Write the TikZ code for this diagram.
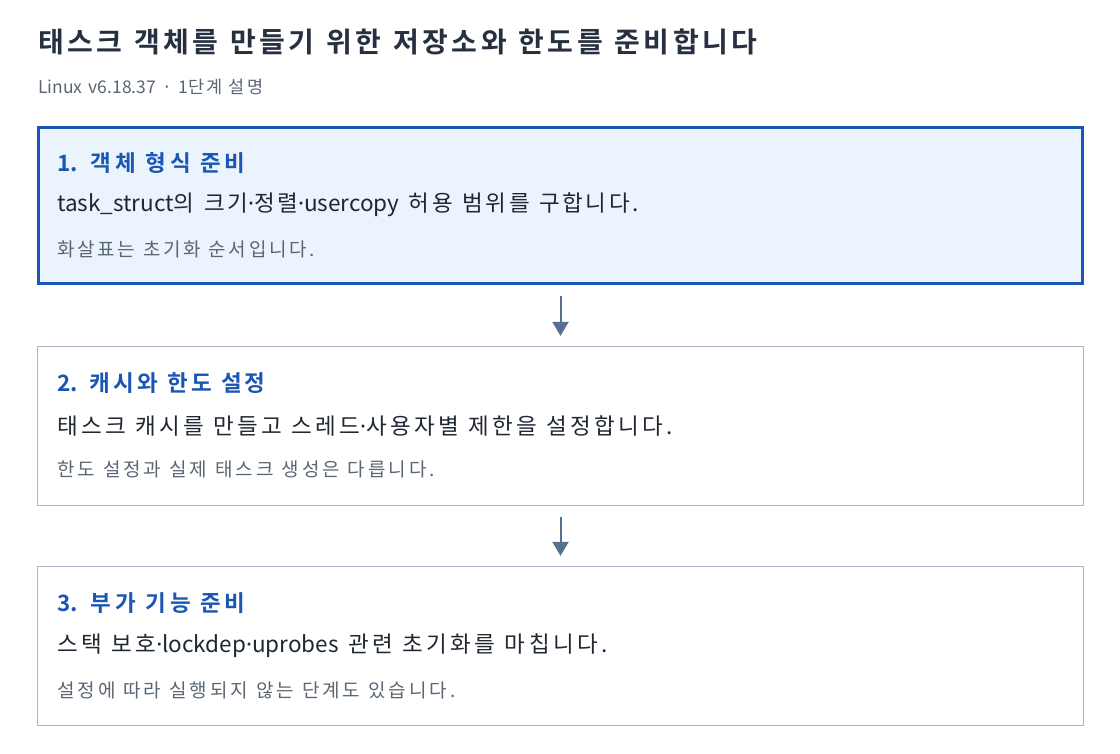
\documentclass[tikz,border=0pt]{standalone}
\usepackage{fontspec}
\setmainfont{Noto Sans CJK KR}[BoldFont=Noto Sans CJK KR Bold]
\newfontfamily\latinfont{Noto Sans}
\usetikzlibrary{arrows.meta}
\newcommand\lat[1]{{\addfontfeature{LetterSpace=0}#1}}
\newcommand\md{{\latinfont ·}}
\newcommand\wsp[1]{\spaceskip=#1\relax}
\definecolor{titlecol}{HTML}{263040}
\definecolor{subcol}{HTML}{5B6675}
\definecolor{bluecol}{HTML}{1A56B4}
\definecolor{fillblue}{HTML}{EBF3FD}
\definecolor{graycol}{HTML}{A9B7C6}
\definecolor{arrowcol}{HTML}{56708F}
\definecolor{bodycol}{HTML}{1F2733}
\tikzset{
  stepbox/.style={draw=graycol, line width=1.2pt, fill=white, minimum width=1046pt, minimum height=159pt, inner sep=0pt},
  activebox/.style={stepbox, draw=bluecol, line width=3pt, fill=fillblue, minimum width=1044pt, minimum height=156pt},
  steptitle/.style={anchor=west, inner sep=0pt, text=bluecol, font={\bfseries\fontsize{22.5}{26}\selectfont\addfontfeature{LetterSpace=#1}}, execute at begin node={\wsp{9.5pt}}},
  stepbody/.style={anchor=west, inner sep=0pt, text=bodycol, font={\fontsize{22.5}{26}\selectfont\addfontfeature{LetterSpace=#1}}, execute at begin node={\wsp{9.5pt}}},
  stepnote/.style={anchor=west, inner sep=0pt, text=subcol, font={\fontsize{19}{22}\selectfont\addfontfeature{LetterSpace=#1}}, execute at begin node={\wsp{8pt}}},
  flow/.style={draw=arrowcol, line width=2pt, -{Triangle[width=16pt,length=14pt]}, shorten <=11pt, shorten >=10pt}
}
\begin{document}
\begin{tikzpicture}[x=1pt,y=-1pt]
\useasboundingbox[fill=white] (0,0) rectangle (1120,754);
\node[anchor=west, inner sep=0pt, text=titlecol, font={\bfseries\fontsize{28}{32}\selectfont\addfontfeature{LetterSpace=12.5}}, execute at begin node={\wsp{11.8pt}}] (title) at (38,42) {태스크 객체를 만들기 위한 저장소와 한도를 준비합니다};
\node[anchor=west, inner sep=0pt, text=subcol, font={\fontsize{17.5}{20}\selectfont\addfontfeature{LetterSpace=14}}, execute at begin node={\wsp{6.2pt}}] (sub) at (38,87) {\lat{Linux v6.18.37 · 1}단계 설명};

\node[activebox] (b1) at (560.5,205.5) {};
\node[steptitle=18] (t1) at (57,163) {\lat{1.} 객체 형식 준비};
\node[stepbody=11.5] (d1) at (57,205) {\lat{task\_struct}의 크기\md 정렬\md\lat{usercopy} 허용 범위를 구합니다.};
\node[stepnote=14] (n1) at (57,249) {화살표는 초기화 순서입니다.};

\node[stepbox] (b2) at (560.5,426) {};
\node[steptitle=13] (t2) at (57,383) {\lat{2.} 캐시와 한도 설정};
\node[stepbody=14.5] (d2) at (57,426) {태스크 캐시를 만들고 스레드\md 사용자별 제한을 설정합니다.};
\node[stepnote=15.5] (n2) at (57,469) {한도 설정과 실제 태스크 생성은 다릅니다.};

\node[stepbox] (b3) at (560.5,646) {};
\node[steptitle=18] (t3) at (57,603) {\lat{3.} 부가 기능 준비};
\node[stepbody=15] (d3) at (57,646) {스택 보호\md\lat{lockdep}\md\lat{uprobes} 관련 초기화를 마칩니다.};
\node[stepnote=15.5] (n3) at (57,690) {설정에 따라 실행되지 않는 단계도 있습니다.};

\draw[flow] (b1.south) -- (b2.north);
\draw[flow] (b2.south) -- (b3.north);
\end{tikzpicture}
\end{document}
